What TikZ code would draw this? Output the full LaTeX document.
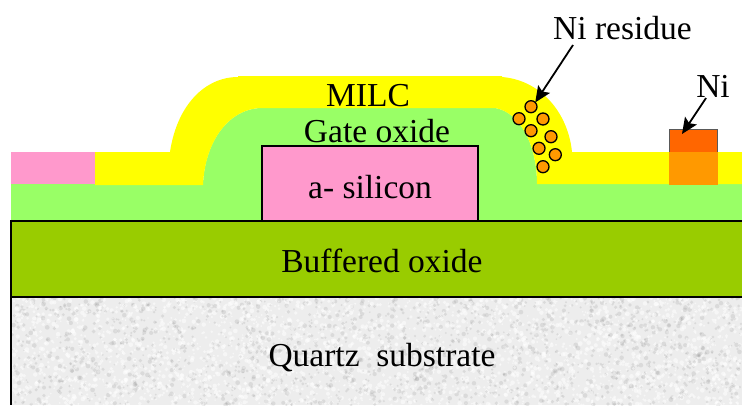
\documentclass[tikz,border=0pt]{standalone}
\usepackage{fontspec}
\setmainfont{Liberation Serif}
\usetikzlibrary{arrows.meta}
\definecolor{layergreen}{HTML}{99FF66}
\definecolor{buffgreen}{HTML}{99CC00}
\definecolor{layerpink}{HTML}{FF99CC}
\definecolor{niorange}{HTML}{FF9900}
\definecolor{nidark}{HTML}{FF6600}
\definecolor{milcyellow}{HTML}{FFFF00}
\definecolor{quartzbase}{HTML}{EDEDED}
\tikzset{
  lbl/.style={inner sep=0pt,font=\fontsize{33.5pt}{36pt}\selectfont,text=black},
  resid/.style={circle,draw=black,line width=1.3pt,fill=niorange,minimum size=12pt,inner sep=0pt,outer sep=0pt},
  pointer/.style={-{Stealth[length=16pt,width=14pt,inset=3pt]},line width=1.8pt,black},
  edge/.style={line width=1.8pt,black}
}
\begin{document}
\begin{tikzpicture}[x=1pt,y=-1pt]
\useasboundingbox (0,0) rectangle (742,405);
\fill[white] (0,0) rectangle (742,405);
% quartz substrate with speckle
\fill[quartzbase] (11,297) rectangle (742,405);
\begin{scope}
\clip (11,297) rectangle (742,405);
\pgfmathsetseed{4711}
\foreach \i in {1,...,4500}{
  \pgfmathsetmacro{\px}{11+731*rnd}
  \pgfmathsetmacro{\py}{297+108*rnd}
  \pgfmathsetmacro{\rr}{0.8+1.6*rnd}
  \pgfmathsetmacro{\gr}{rnd}
  \ifdim\gr pt<0.62pt
    \fill[white,opacity=.5] (\px,\py) circle[radius=\rr];
  \else
    \fill[black!50,opacity=.17] (\px,\py) circle[radius=\rr];
  \fi
}
\end{scope}
% buffered oxide
\fill[buffgreen] (11,221) rectangle (742,297);
% green layer
\fill[layergreen] (11,184) -- (203,184) .. controls (205,140) and (230,108) .. (262,108)
  -- (495,108) .. controls (520,112) and (537,145) .. (537,184) -- (742,184) -- (742,221) -- (11,221) -- cycle;
% yellow MILC
\fill[milcyellow] (95,152) -- (170,152) .. controls (177,105) and (205,77) .. (238,77) -- (238,76) -- (502,76) -- (502,77)
  .. controls (540,80) and (568,112) .. (572,152) -- (742,152) -- (742,184) -- (537,184)
  .. controls (537,145) and (520,112) .. (495,108) -- (262,108)
  .. controls (230,108) and (205,140) .. (203,185) -- (95,185) -- cycle;
% pink end
\fill[layerpink] (11,152) rectangle (95,184);
% Ni blocks
\node[draw=black!65,line width=1pt,fill=nidark,inner sep=0pt,outer sep=0pt,minimum width=48pt,minimum height=23pt,anchor=north west] (niblock) at (669,129) {};
\fill[niorange] (668.5,152) rectangle (717.5,185);
% a-silicon
\node[draw=black,line width=1.6pt,fill=layerpink,inner sep=0pt,outer sep=0pt,minimum width=216pt,minimum height=75pt,anchor=north west] (asi) at (262,146) {};
% outlines
\coordinate (bl) at (11,221); \coordinate (br) at (742,221);
\coordinate (ml) at (11,297); \coordinate (mr) at (742,297);
\coordinate (fl) at (11,405);
\draw[edge] (br) -- (bl) -- (fl);
\draw[edge] (ml) -- (mr);
% residues
\node[resid] (r1) at (531,106.7) {};
\node[resid] (r2) at (519,118.7) {};
\node[resid] (r3) at (543,119) {};
\node[resid] (r4) at (531,130.7) {};
\node[resid] (r5) at (551,136.7) {};
\node[resid] (r6) at (539,148.3) {};
\node[resid] (r7) at (555.3,154.7) {};
\node[resid] (r8) at (543,166.7) {};
% labels
\node[lbl] (milc) at (368,96) {MILC};
\node[lbl] (gox) at (377,131) {Gate oxide};
\node[lbl] at (370,187) (asitext) {a- silicon};
\node[lbl] (box) at (382,261) {Buffered oxide};
\node[lbl] (qz) at (382,358) {Quartz\ \ substrate};
\node[lbl] (res) at (622.5,28) {Ni residue};
\node[lbl] (nil) at (713,86) {Ni};
% pointers
\coordinate (rest) at (573,45);
\coordinate (nit) at (706,98);
\coordinate (nitip) at (682,134);
\draw[pointer] (rest) -- (r1.north east);
\draw[pointer] (nit) -- (nitip);
\end{tikzpicture}
\end{document}
